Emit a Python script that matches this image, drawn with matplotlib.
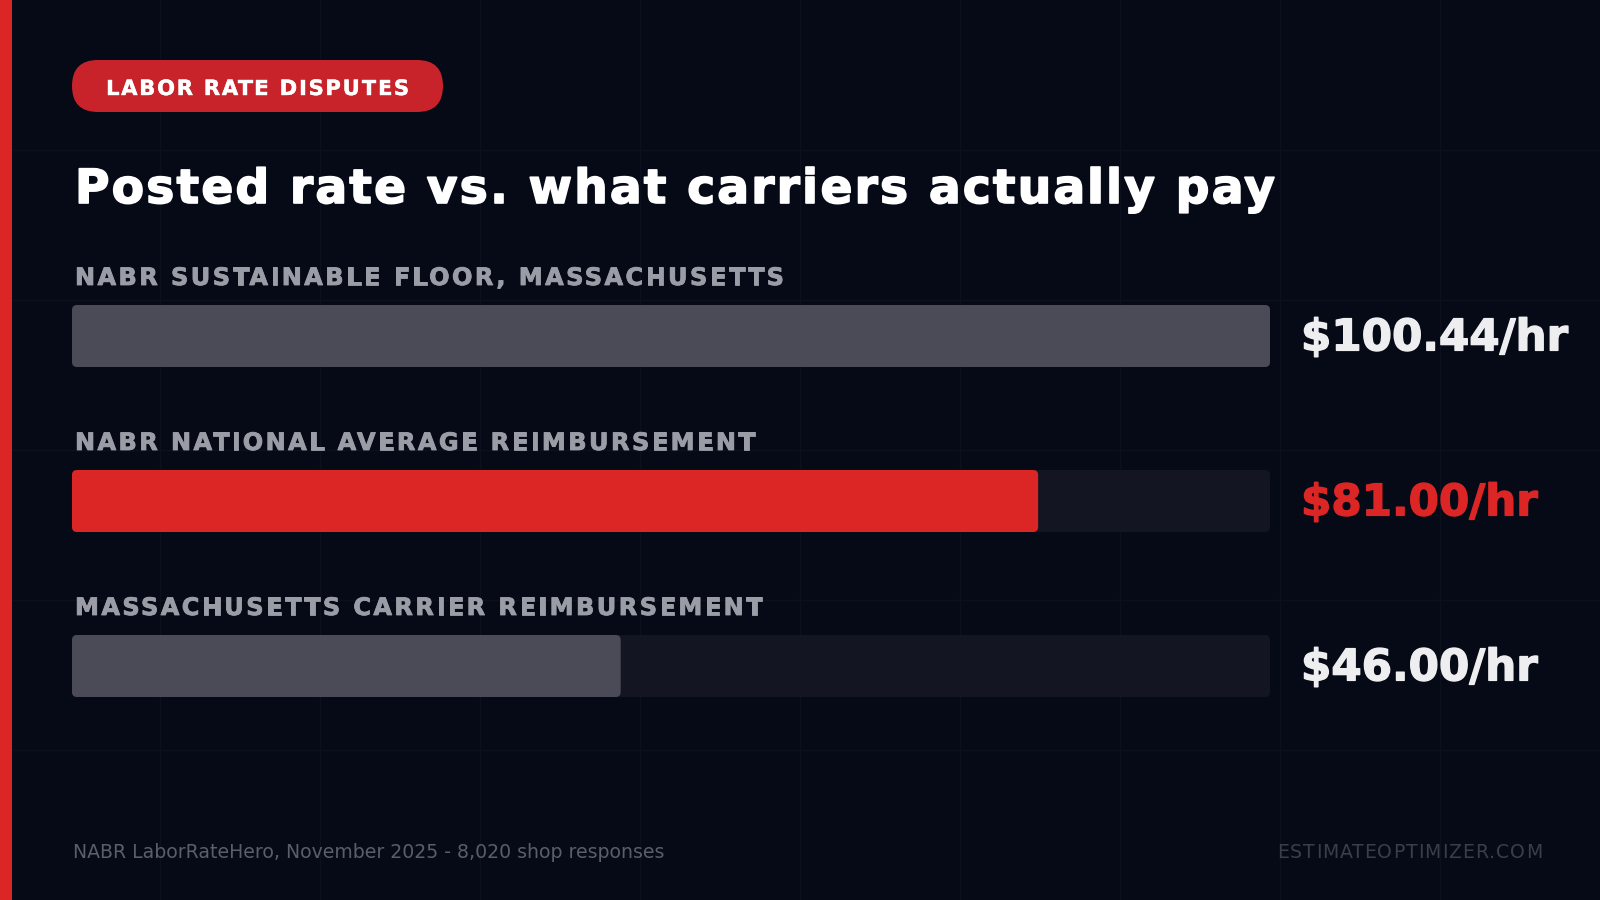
import os

import matplotlib
matplotlib.use('Agg')
import matplotlib.pyplot as plt
import matplotlib.patheffects as pe
from matplotlib.patches import FancyBboxPatch, Rectangle
from matplotlib.font_manager import FontProperties

# === 数据 ===
tag_text = 'LABOR RATE DISPUTES'
title_text = 'Posted rate vs. what carriers actually pay'
categories = [
    'NABR SUSTAINABLE FLOOR, MASSACHUSETTS',
    'NABR NATIONAL AVERAGE REIMBURSEMENT',
    'MASSACHUSETTS CARRIER REIMBURSEMENT',
]
rates = [100.44, 81.00, 46.00]
highlight = 1          # 红色突出的那一条
source_text = 'NABR LaborRateHero, November 2025 - 8,020 shop responses'
site_text = 'ESTIMATEOPTIMIZER.COM'

# === 颜色 ===
BG = '#060a16'
GRID = '#0b101c'
RED = '#dc2626'
PILL = '#c8232a'
TRACK = '#131622'
BAR = '#4a4b56'
LABEL = '#9a9ca6'
VALUE = '#eeeef0'
FOOT = '#5a5e6b'
FOOT2 = '#3a3e4a'

ttf_dir = os.path.join(matplotlib.get_data_path(), 'fonts', 'ttf')
BOLD = os.path.join(ttf_dir, 'DejaVuSans-Bold.ttf')
REGULAR = os.path.join(ttf_dir, 'DejaVuSans.ttf')

W, H = 1600, 900
fig = plt.figure(figsize=(16, 9), dpi=100, facecolor=BG)
renderer = fig.canvas.get_renderer()

# 背景层：像素坐标，y 向下
bg = fig.add_axes([0, 0, 1, 1])
bg.set_xlim(0, W)
bg.set_ylim(H, 0)
bg.axis('off')

for gx in range(160, W, 160):
    bg.axvline(gx, color=GRID, lw=1, zorder=0)
for gy in range(150, H, 150):
    bg.axhline(gy, color=GRID, lw=1, zorder=0)

bg.add_patch(Rectangle((0, 0), 12, H, color=RED, lw=0, zorder=2))


def ink_width(s, prop):
    w, _, _ = renderer.get_text_width_height_descent(s, prop, ismath=False)
    return w


def spaced_text(x, y, s, prop, width, color, stroke=0):
    """模拟 CSS letter-spacing：逐字绘制，使整行宽度为 width。
    stroke > 0 时加同色描边，模拟浏览器的加粗效果。"""
    gap = (width - ink_width(s, prop)) / (len(s) - 1)
    effects = [pe.withStroke(linewidth=stroke, foreground=color)] if stroke else None
    for i, ch in enumerate(s):
        if ch == ' ':
            continue
        xi = x + ink_width(s[:i + 1], prop) - ink_width(ch, prop) + i * gap
        bg.text(xi, y, ch, fontproperties=prop, color=color,
                ha='left', va='baseline', zorder=5, path_effects=effects)


# 标签胶囊
bg.add_patch(FancyBboxPatch((72, 60), 371, 52,
                            boxstyle='round,pad=0,rounding_size=26',
                            fc=PILL, ec='none', zorder=3))
pill_font = FontProperties(fname=BOLD, size=15.2)
spaced_text(106, 95, tag_text, pill_font, 303, 'white', stroke=0.3)

# 标题
title_font = FontProperties(fname=BOLD, size=33.9)
spaced_text(75, 203, title_text, title_font, 1200, 'white', stroke=1.2)

# === 条形图 ===
track_left, track_right = 72, 1270
row_gap = 165
first_center = 336
bar_h_px = 62

ax_top = first_center - row_gap / 2
ax_h = row_gap * len(rates)
ax = fig.add_axes([track_left / W, 1 - (ax_top + ax_h) / H,
                   (track_right - track_left) / W, ax_h / H])
ax.set_facecolor('none')
ax.axis('off')
vmax = max(rates)
ax.set_xlim(0, vmax)
ax.set_ylim(len(rates) - 0.5, -0.5)

x_per_px = vmax / (track_right - track_left)
y_per_px = 1 / row_gap
bar_h = bar_h_px * y_per_px
radius = 5 * x_per_px
aspect = y_per_px / x_per_px

label_font = FontProperties(fname=BOLD, size=17.3)
# 以第一条标签的宽度定字距，其余沿用
label_gap = (709 - ink_width(categories[0], label_font)) / (len(categories[0]) - 1)
value_size = 31.4
value_font = FontProperties(fname=BOLD, size=value_size)
value_cap = 0.729 * value_size / 0.72

for i, (cat, v) in enumerate(zip(categories, rates)):
    y0 = i - bar_h / 2
    ax.add_patch(FancyBboxPatch((0, y0), vmax, bar_h,
                                boxstyle=f'round,pad=0,rounding_size={radius}',
                                mutation_aspect=aspect,
                                fc=TRACK, ec='none', zorder=1))
    ax.add_patch(FancyBboxPatch((0, y0), v, bar_h,
                                boxstyle=f'round,pad=0,rounding_size={radius}',
                                mutation_aspect=aspect,
                                fc=RED if i == highlight else BAR,
                                ec='none', zorder=2))

    # 类别标签：条形上方 20px
    px, py = ax.transData.transform((0, y0))
    spaced_text(px + 3, H - py - 20, cat, label_font,
                ink_width(cat, label_font) + (len(cat) - 1) * label_gap,
                LABEL, stroke=0.6)

    vcol = RED if i == highlight else VALUE
    ax.annotate(f'${v:.2f}/hr', xy=(vmax, i), xytext=(31, -value_cap / 2 + 1.5),
                textcoords='offset pixels', ha='left', va='baseline',
                fontproperties=value_font, color=vcol,
                path_effects=[pe.withStroke(linewidth=1.0, foreground=vcol)],
                annotation_clip=False, parse_math=False, zorder=5)

# 页脚
foot_font = FontProperties(fname=REGULAR, size=13.6)
bg.text(73, 858, source_text, fontproperties=foot_font, color=FOOT,
        ha='left', va='baseline', zorder=5)
spaced_text(1277, 858, site_text, foot_font, 265, FOOT2)

fig.savefig('out.png', dpi=100, facecolor=BG)
plt.close(fig)
